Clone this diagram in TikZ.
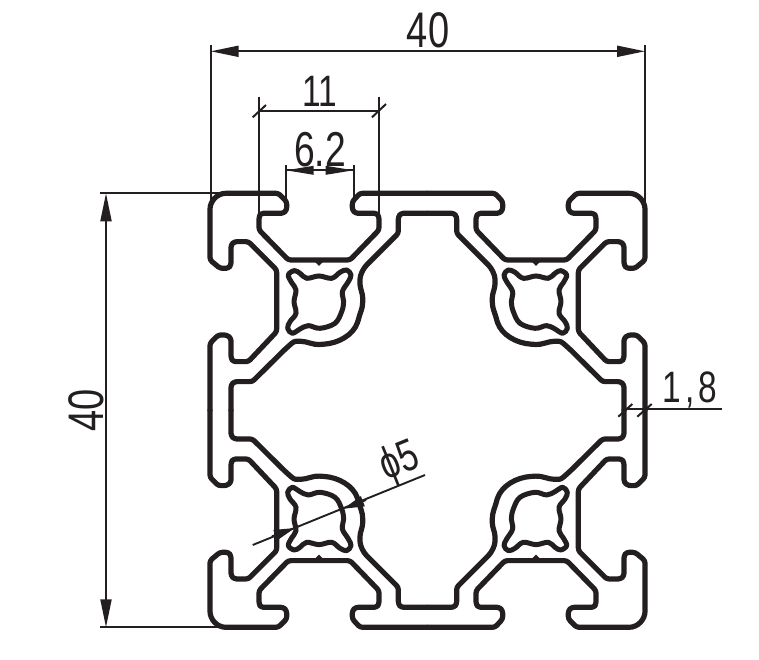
\documentclass[tikz,border=0pt]{standalone}
\usepackage{fontspec}
\usetikzlibrary{arrows.meta}
\newfontfamily\dimfont[FakeStretch=0.76]{Liberation Sans}
\newcommand\dimtext[1]{\dimfont\fontsize{#1}{#1}\selectfont}
\definecolor{ink}{HTML}{231F20}
\tikzset{
  x=1pt,y=-1pt,
  profile/.style={draw=ink,line width=5.2pt,line join=round,line cap=round,rounded corners=2.5pt},
  hole/.style={draw=ink,line width=5pt,line join=round},
  dimline/.style={draw=ink,line width=1.9pt},
  extline/.style={draw=ink,line width=1.8pt},
  tickline/.style={draw=ink,line width=2pt},
  bigtips/.style={{Triangle[length=28pt,width=11pt]}-{Triangle[length=28pt,width=11pt]}},
  intip/.style={-{Triangle[length=21pt,width=10.5pt]}},
  label/.style={text=ink,inner sep=0pt,outer sep=0pt},
  quad/.style 2 args={shift={(427.5,410.3)},xscale=#1,yscale=#2,scale=0.33333,shift={(-697.5,-691)}}
}
\newcommand\quarter{%
  \path[profile] (697.5,40) -- (495,40) -- (472,65) -- (472,90) -- (482,100) -- (545,100)
    -- (552,110) -- (552,150) -- (465,240) -- (280,240) -- (192,150) -- (192,110) -- (198,100)
    -- (265,100) -- (275,90) -- (275,65) -- (250,40) -- (100,40)
    .. controls (65,40) and (45,65) .. (45,95)
    -- (45,240) -- (75,265) -- (100,265) -- (108,255) -- (108,195) -- (118,185) -- (160,185)
    -- (245,270) -- (245,455) -- (160,545) -- (115,545) -- (108,535) -- (108,475) -- (95,465)
    -- (70,465) -- (45,490) -- (45,691);
  \path[profile] (697.5,100) -- (618,100) -- (610,110) -- (610,160) -- (520,250)
    .. controls (505,265) and (495,285) .. (495,305)
    .. controls (495,325) and (503,340) .. (503,360)
    .. controls (503,385) and (495,400) .. (490,420)
    .. controls (475,465) and (430,490) .. (380,493)
    .. controls (355,495) and (335,484) .. (310,484)
    .. controls (295,484) and (285,495) .. (270,508)
    -- (172,605) -- (118,605) -- (108,615) -- (108,691);
  \path[hole] plot[smooth cycle,tension=0.6] coordinates {
    (280,285) (298,272) (315,280) (335,295) (372,288) (410,295) (435,277) (455,270)
    (468,285) (460,305) (442,335) (446,365) (440,395) (420,430) (375,445) (340,437)
    (315,447) (292,460) (278,445) (285,425) (303,400) (297,365) (303,330) (290,308)};
  \fill[ink] (358,244) -- (372,258) -- (386,244) -- cycle;
}
\begin{document}
\begin{tikzpicture}
\useasboundingbox (0,0) rectangle (759,660);
\fill[white] (0,0) rectangle (759,660);
% profile: four mirrored quarters
\begin{scope}[quad={1}{1}]\quarter\end{scope}
\begin{scope}[quad={-1}{1}]\quarter\end{scope}
\begin{scope}[quad={1}{-1}]\quarter\end{scope}
\begin{scope}[quad={-1}{-1}]\quarter\end{scope}
% dimension 40 (top)
\coordinate (wl) at (210.7,51.3);
\coordinate (wr) at (645,51.3);
\draw[extline] (210.7,45) -- (210.7,202);
\draw[extline] (645,45) -- (645,202);
\draw[dimline,bigtips] (wl) -- (wr);
\node[label,font=\dimtext{50}] (w40) at (428,30) {40};
% dimension 11
\coordinate (a) at (259.3,111);
\coordinate (b) at (379.3,111);
\draw[extline] (259.3,97) -- (259.3,213);
\draw[extline] (379.3,97) -- (379.3,213);
\draw[dimline] (a) -- (b);
\draw[tickline] (252.7,117.3) -- (266,105);
\draw[tickline] (372,117.3) -- (386,104);
\node[label,font=\dimtext{44}] (w11) at (320,91.5) {11};
% dimension 6.2
\coordinate (c) at (285.7,170.3);
\coordinate (d) at (353.7,170.3);
\coordinate (cm) at (313.5,170.3);
\coordinate (dm) at (325,170.3);
\draw[extline] (285.7,165) -- (285.7,198);
\draw[extline] (353.7,165) -- (353.7,198);
\draw[dimline] (c) -- (d);
\draw[dimline,-{Triangle[length=28pt,width=8.5pt]}] (cm) -- (c);
\draw[dimline,-{Triangle[length=28pt,width=8.5pt]}] (dm) -- (d);
\node[label,font=\dimtext{49}] (w62) at (320,150) {6.2};
% dimension 40 (left)
\coordinate (ht) at (106,193.3);
\coordinate (hb) at (106,627.3);
\draw[extline] (100,193.3) -- (222,193.3);
\draw[extline] (100,627.3) -- (226,627.3);
\draw[dimline,bigtips] (ht) -- (hb);
\node[label,font=\dimtext{50},rotate=90] (h40) at (86,410) {40};
% dimension 1,8
\coordinate (e) at (622,409.3);
\coordinate (f) at (721.7,409.3);
\draw[dimline] (e) -- (f);
\draw[tickline] (618.3,416.7) -- (632.3,404);
\draw[tickline] (637.3,416.7) -- (651.7,404);
\node[label,font=\dimtext{44}] (w18) at (690,387) {1\kern4pt\smash{,}\kern4pt8};
% diameter 5
\coordinate (g) at (252.7,545);
\coordinate (h) at (425,475);
\coordinate (gb) at (272,536.3);
\coordinate (gt) at (295,528);
\coordinate (hb2) at (366,500);
\coordinate (ht2) at (343.3,508.8);
\draw[dimline] (g) -- (h);
\draw[dimline,intip] (gb) -- (gt);
\draw[dimline,intip] (hb2) -- (ht2);
\node[label,font=\dimtext{45},rotate=22] (d5) at (400,463) {ϕ5};
\end{tikzpicture}
\end{document}
